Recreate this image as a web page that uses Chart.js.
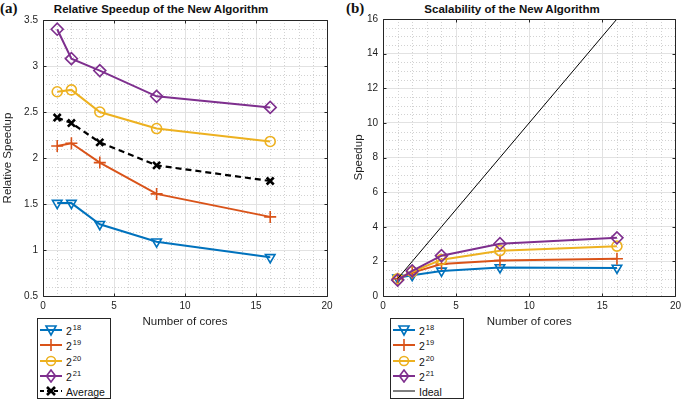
<!DOCTYPE html>
<html lang="en">
<head>
<meta charset="UTF-8">
<title>Relative Speedup and Scalability of the New Algorithm</title>
<script src="https://cdn.jsdelivr.net/npm/chart.js"></script>
<style>
    * { margin: 0; padding: 0; box-sizing: border-box; }
    body {
        width: 685px; height: 399px; position: relative; overflow: hidden;
        background: #fff; color: #262626;
        font-family: "Liberation Sans", Arial, sans-serif;
    }
    canvas { position: absolute; top: 0; }
    #chartA { left: 0; }
    #chartB { left: 340px; }
    .panel {
        position: absolute; top: 0; font-family: "Liberation Serif", "Times New Roman", serif;
        font-weight: bold; font-size: 15px; color: #111;
    }
    .title {
        position: absolute; top: 3px; transform: translateX(-50%);
        font-weight: bold; font-size: 11.5px; color: #111; white-space: nowrap;
    }
    .legend {
        position: absolute; top: 318px; width: 74px; height: 81px;
        border: 1px solid #262626; background: #fff;
    }
    .legend .row {
        position: absolute; left: 1px; height: 16px;
        display: flex; align-items: center; font-size: 10.5px; color: #111; white-space: nowrap;
    }
    .legend svg { margin-right: 2px; }
    .legend .lbl { display: inline-block; line-height: 12px; padding-top: 2px; }
    .legend sup { font-size: 7.5px; vertical-align: 5px; line-height: 0; margin-left: 1px; }
</style>
</head>
<body>
    <div class="panel" style="left:0">(a)</div>
    <div class="panel" style="left:346px">(b)</div>
    <div class="title" style="left:161px">Relative Speedup of the New Algorithm</div>
    <div class="title" style="left:512px">Scalability of the New Algorithm</div>
    <canvas id="chartA" width="340" height="332"></canvas>
    <canvas id="chartB" width="345" height="332"></canvas>
    <div class="legend" id="legendA" style="left:37px"></div>
    <div class="legend" id="legendB" style="left:390px"></div>

<script>
    // number of cores (x values)
    const cores = [1, 2, 4, 8, 16];
    const problemSizes = ['18', '19', '20', '21']; // exponents of 2

    // (a) relative speedup
    const rel18 = [1.51, 1.51, 1.28, 1.09, 0.92];
    const rel19 = [2.13, 2.16, 1.95, 1.61, 1.36];
    const rel20 = [2.72, 2.74, 2.50, 2.32, 2.18];
    const rel21 = [3.40, 3.08, 2.95, 2.67, 2.55];
    const relAverage = [2.44, 2.38, 2.17, 1.92, 1.75];

    // (b) speedup
    const scal18 = [1.05, 1.20, 1.45, 1.65, 1.62];
    const scal19 = [1.00, 1.35, 1.85, 2.05, 2.15];
    const scal20 = [1.00, 1.40, 2.10, 2.62, 2.88];
    const scal21 = [0.92, 1.45, 2.33, 3.02, 3.36];
    const idealSpeedup = [1, 2, 4, 8, 16];

    const colors = ['#0072BD', '#D95319', '#EDB120', '#7E2F8E'];
    const markers = ['triDown', 'plus', 'circle', 'diamond'];
    const tickColor = '#1e1e1e';

    function toPoints(ys) {
        return cores.map((c, i) => ({ x: c, y: ys[i] }));
    }

    function pointOpts(kind) {
        if (kind === 'triDown') return { pointStyle: 'triangle', rotation: 180, pointRadius: 5.5 };
        if (kind === 'plus') return { pointStyle: 'cross', rotation: 0, pointRadius: 6 };
        if (kind === 'circle') return { pointStyle: 'circle', rotation: 0, pointRadius: 5 };
        if (kind === 'diamond') return { pointStyle: 'rectRot', rotation: 0, pointRadius: 6 };
        return { pointStyle: 'crossRot', rotation: 0, pointRadius: 5 };
    }

    function sizeSeries(ys, i) {
        return Object.assign({
            label: '2^' + problemSizes[i],
            data: toPoints(ys),
            borderColor: colors[i],
            backgroundColor: 'transparent',
            borderWidth: 2,
            pointBorderWidth: 1.6,
            pointBorderColor: colors[i],
            pointBackgroundColor: 'transparent',
            tension: 0,
            order: 10 - i
        }, pointOpts(markers[i]));
    }

    // MATLAB look: dotted minor grid, full box, inward ticks
    const matlabAxes = {
        id: 'matlabAxes',
        beforeDatasetsDraw(chart, args, o) {
            const { ctx, chartArea: a, scales: { x, y } } = chart;
            ctx.save();
            ctx.strokeStyle = '#d2d2d2';
            ctx.lineWidth = 1;
            ctx.setLineDash([1, 2]);
            ctx.beginPath();
            const nx = Math.round((x.max - x.min) / o.xMinor);
            for (let k = 1; k < nx; k++) {
                const v = x.min + k * o.xMinor;
                if (Math.abs(v / o.xMajor - Math.round(v / o.xMajor)) < 1e-6) continue;
                const px = Math.round(x.getPixelForValue(v)) + 0.5;
                ctx.moveTo(px, a.top); ctx.lineTo(px, a.bottom);
            }
            const ny = Math.round((y.max - y.min) / o.yMinor);
            for (let k = 1; k < ny; k++) {
                const v = y.min + k * o.yMinor;
                if (Math.abs(v / o.yMajor - Math.round(v / o.yMajor)) < 1e-6) continue;
                const py = Math.round(y.getPixelForValue(v)) + 0.5;
                ctx.moveTo(a.left, py); ctx.lineTo(a.right, py);
            }
            ctx.stroke();
            ctx.restore();
        },
        afterDatasetsDraw(chart, args, o) {
            const { ctx, chartArea: a, scales: { x, y } } = chart;
            ctx.save();
            ctx.strokeStyle = '#262626';
            ctx.lineWidth = 1;
            ctx.beginPath();
            const L = Math.round(a.left) + 0.5, R = Math.round(a.right) + 0.5;
            const T = Math.round(a.top) + 0.5, B = Math.round(a.bottom) + 0.5;
            ctx.rect(L, T, R - L, B - T);
            x.ticks.forEach(t => {
                const px = Math.round(x.getPixelForValue(t.value)) + 0.5;
                ctx.moveTo(px, B); ctx.lineTo(px, B - 3);
                ctx.moveTo(px, T); ctx.lineTo(px, T + 3);
            });
            y.ticks.forEach(t => {
                const py = Math.round(y.getPixelForValue(t.value)) + 0.5;
                ctx.moveTo(L, py); ctx.lineTo(L + 3, py);
                ctx.moveTo(R, py); ctx.lineTo(R - 3, py);
            });
            ctx.stroke();
            ctx.restore();
        }
    };

    function makeChart(id, datasets, cfg) {
        const font = { family: '"Liberation Sans", Arial, sans-serif' };
        return new Chart(document.getElementById(id), {
            type: 'line',
            data: { datasets: datasets },
            plugins: [matlabAxes],
            options: {
                responsive: false,
                animation: false,
                devicePixelRatio: 1,
                layout: { padding: cfg.padding },
                plugins: {
                    legend: { display: false },
                    tooltip: { enabled: false },
                    title: { display: false },
                    matlabAxes: cfg.minor
                },
                scales: {
                    x: {
                        type: 'linear', min: 0, max: 20,
                        afterFit: s => { s.height = 36; },
                        ticks: { stepSize: 5, padding: 4, color: tickColor, font: Object.assign({ size: 10 }, font) },
                        grid: { color: '#e2e2e2', drawTicks: false },
                        border: { display: false },
                        title: { display: true, text: 'Number of cores', color: tickColor,
                                 font: Object.assign({ size: 11.5 }, font), padding: { top: 0, bottom: 3 } }
                    },
                    y: {
                        type: 'linear', min: cfg.yMin, max: cfg.yMax,
                        afterFit: s => { s.width = cfg.yWidth; },
                        ticks: { stepSize: cfg.yStep, padding: 5, color: tickColor,
                                 font: Object.assign({ size: 10 }, font),
                                 callback: v => String(Math.round(v * 10) / 10) },
                        grid: { color: '#e2e2e2', drawTicks: false },
                        border: { display: false },
                        title: { display: true, text: cfg.yTitle, color: tickColor,
                                 font: Object.assign({ size: 11.5 }, font), padding: { top: 1, bottom: 0 } }
                    }
                }
            }
        });
    }

    const relSets = [rel18, rel19, rel20, rel21].map(sizeSeries);
    relSets.push(Object.assign({
        label: 'Average',
        data: toPoints(relAverage),
        borderColor: '#000',
        backgroundColor: 'transparent',
        borderWidth: 2.2,
        borderDash: [6, 4],
        pointBorderWidth: 2.6,
        pointBorderColor: '#000',
        pointBackgroundColor: 'transparent',
        order: 5
    }, pointOpts('x')));

    makeChart('chartA', relSets, {
        padding: { top: 20, left: 0, right: 13, bottom: 0 },
        yMin: 0.5, yMax: 3.5, yStep: 0.5, yWidth: 43, yTitle: 'Relative Speedup',
        minor: { xMinor: 1, xMajor: 5, yMinor: 0.1, yMajor: 0.5 }
    });

    const scalSets = [scal18, scal19, scal20, scal21].map(sizeSeries);
    scalSets.push({
        label: 'Ideal',
        data: toPoints(idealSpeedup),
        borderColor: '#000',
        backgroundColor: 'transparent',
        borderWidth: 1,
        pointRadius: 0,
        order: 5
    });

    makeChart('chartB', scalSets, {
        padding: { top: 19, left: 11, right: 5, bottom: 0 },
        yMin: 0, yMax: 16, yStep: 2, yWidth: 32, yTitle: 'Speedup',
        minor: { xMinor: 1, xMajor: 5, yMinor: 0.5, yMajor: 2 }
    });

    // legends (HTML, with superscript exponents)
    function swatch(color, kind, dashed, width) {
        const cx = 12, cy = 7;
        let line = `<line x1="1" y1="${cy}" x2="23" y2="${cy}" stroke="${color}" stroke-width="${width}"` +
            (dashed ? ' stroke-dasharray="4,3"' : '') + '/>';
        let m = '';
        const st = `fill="none" stroke="${color}" stroke-width="1.6"`;
        if (kind === 'triDown') m = `<polygon points="${cx - 5},${cy - 4} ${cx + 5},${cy - 4} ${cx},${cy + 5}" ${st}/>`;
        if (kind === 'plus') m = `<path d="M${cx - 6} ${cy}H${cx + 6}M${cx} ${cy - 6}V${cy + 6}" ${st}/>`;
        if (kind === 'circle') m = `<circle cx="${cx}" cy="${cy}" r="4.5" ${st}/>`;
        if (kind === 'diamond') m = `<polygon points="${cx},${cy - 6} ${cx + 4.5},${cy} ${cx},${cy + 6} ${cx - 4.5},${cy}" ${st}/>`;
        if (kind === 'x') m = `<path d="M${cx - 4} ${cy - 4}L${cx + 4} ${cy + 4}M${cx + 4} ${cy - 4}L${cx - 4} ${cy + 4}" fill="none" stroke="${color}" stroke-width="2.6"/>`;
        return `<svg width="25" height="14" viewBox="0 0 25 14">${line}${m}</svg>`;
    }

    function buildLegend(id, lastLabel, lastKind, lastDashed, lastWidth) {
        const el = document.getElementById(id);
        let html = '';
        problemSizes.forEach((p, i) => {
            html += `<div class="row" style="top:${3 + i * 15.3}px">${swatch(colors[i], markers[i], false, 2)}` +
                `<span class="lbl">2<sup>${p}</sup></span></div>`;
        });
        html += `<div class="row" style="top:${3 + 4 * 15.3}px">${swatch('#000', lastKind, lastDashed, lastWidth)}` +
            `<span class="lbl">${lastLabel}</span></div>`;
        el.innerHTML = html;
    }

    buildLegend('legendA', 'Average', 'x', true, 2.2);
    buildLegend('legendB', 'Ideal', 'none', false, 1);
</script>
</body>
</html>
